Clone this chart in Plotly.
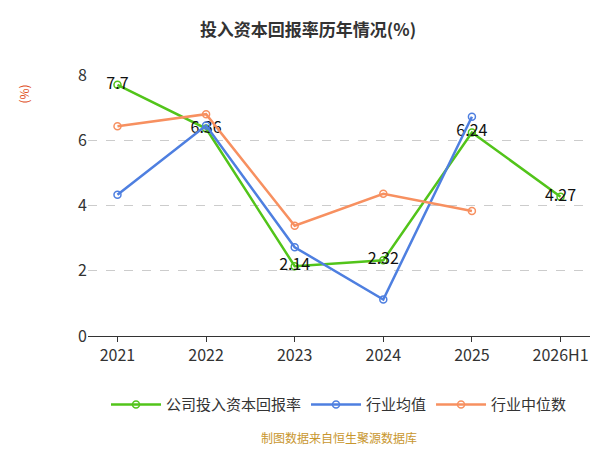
import plotly.graph_objects as go

cats = ["2021", "2022", "2023", "2024", "2025", "2026H1"]
company = [7.7, 6.36, 2.14, 2.32, 6.24, 4.27]
industry_avg = [4.33, 6.45, 2.72, 1.12, 6.72, None]
industry_med = [6.43, 6.8, 3.38, 4.36, 3.83, None]

fig = go.Figure()
fig.add_trace(go.Scatter(x=cats, y=company, name="公司投入资本回报率", mode="lines+markers+text",
    line=dict(color="#52c41a", width=2.5), text=[str(v) for v in company],
    marker=dict(symbol="circle-open", size=7, color="#52c41a", line=dict(width=1.5)),
    textposition="middle center", textfont=dict(size=16, color="#111")))
fig.add_trace(go.Scatter(x=cats, y=industry_avg, name="行业均值", mode="lines+markers",
    line=dict(color="#4e7fe0", width=2.5),
    marker=dict(symbol="circle-open", size=7, color="#4e7fe0", line=dict(width=1.5))))
fig.add_trace(go.Scatter(x=cats, y=industry_med, name="行业中位数", mode="lines+markers",
    line=dict(color="#f79060", width=2.5),
    marker=dict(symbol="circle-open", size=7, color="#f79060", line=dict(width=1.5))))

fig.update_layout(
    width=600, height=450, plot_bgcolor="white", paper_bgcolor="white",
    font=dict(family="Noto Sans CJK SC", color="#333"),
    title=dict(text="<b>投入资本回报率历年情况(%)</b>", x=0.5, y=0.965, font=dict(size=17, color="#333")),
    margin=dict(l=80, r=18, t=67, b=122, autoexpand=False),
    showlegend=True,
    legend=dict(orientation="h", x=0.5, xanchor="center", y=-0.2, yanchor="top",
                font=dict(size=15), itemwidth=50),
    annotations=[
        dict(text="(%)", x=-0.15, y=0.97, xref="paper", yref="paper", showarrow=False,
             textangle=-90, font=dict(size=12, color="#e0501e")),
        dict(text="制图数据来自恒生聚源数据库", x=0.5, y=-0.43, xref="paper", yref="paper",
             showarrow=False, font=dict(size=12, color="#c8962e")),
    ],
)
fig.update_xaxes(showline=True, linecolor="#333", ticks="outside", tickcolor="#333",
                 tickfont=dict(size=16))
fig.update_yaxes(range=[0, 8], dtick=2, showgrid=True, gridcolor="#ccc", griddash="dash",
                 zeroline=False, showline=False, tickfont=dict(size=16))
fig.write_html("out.html")
